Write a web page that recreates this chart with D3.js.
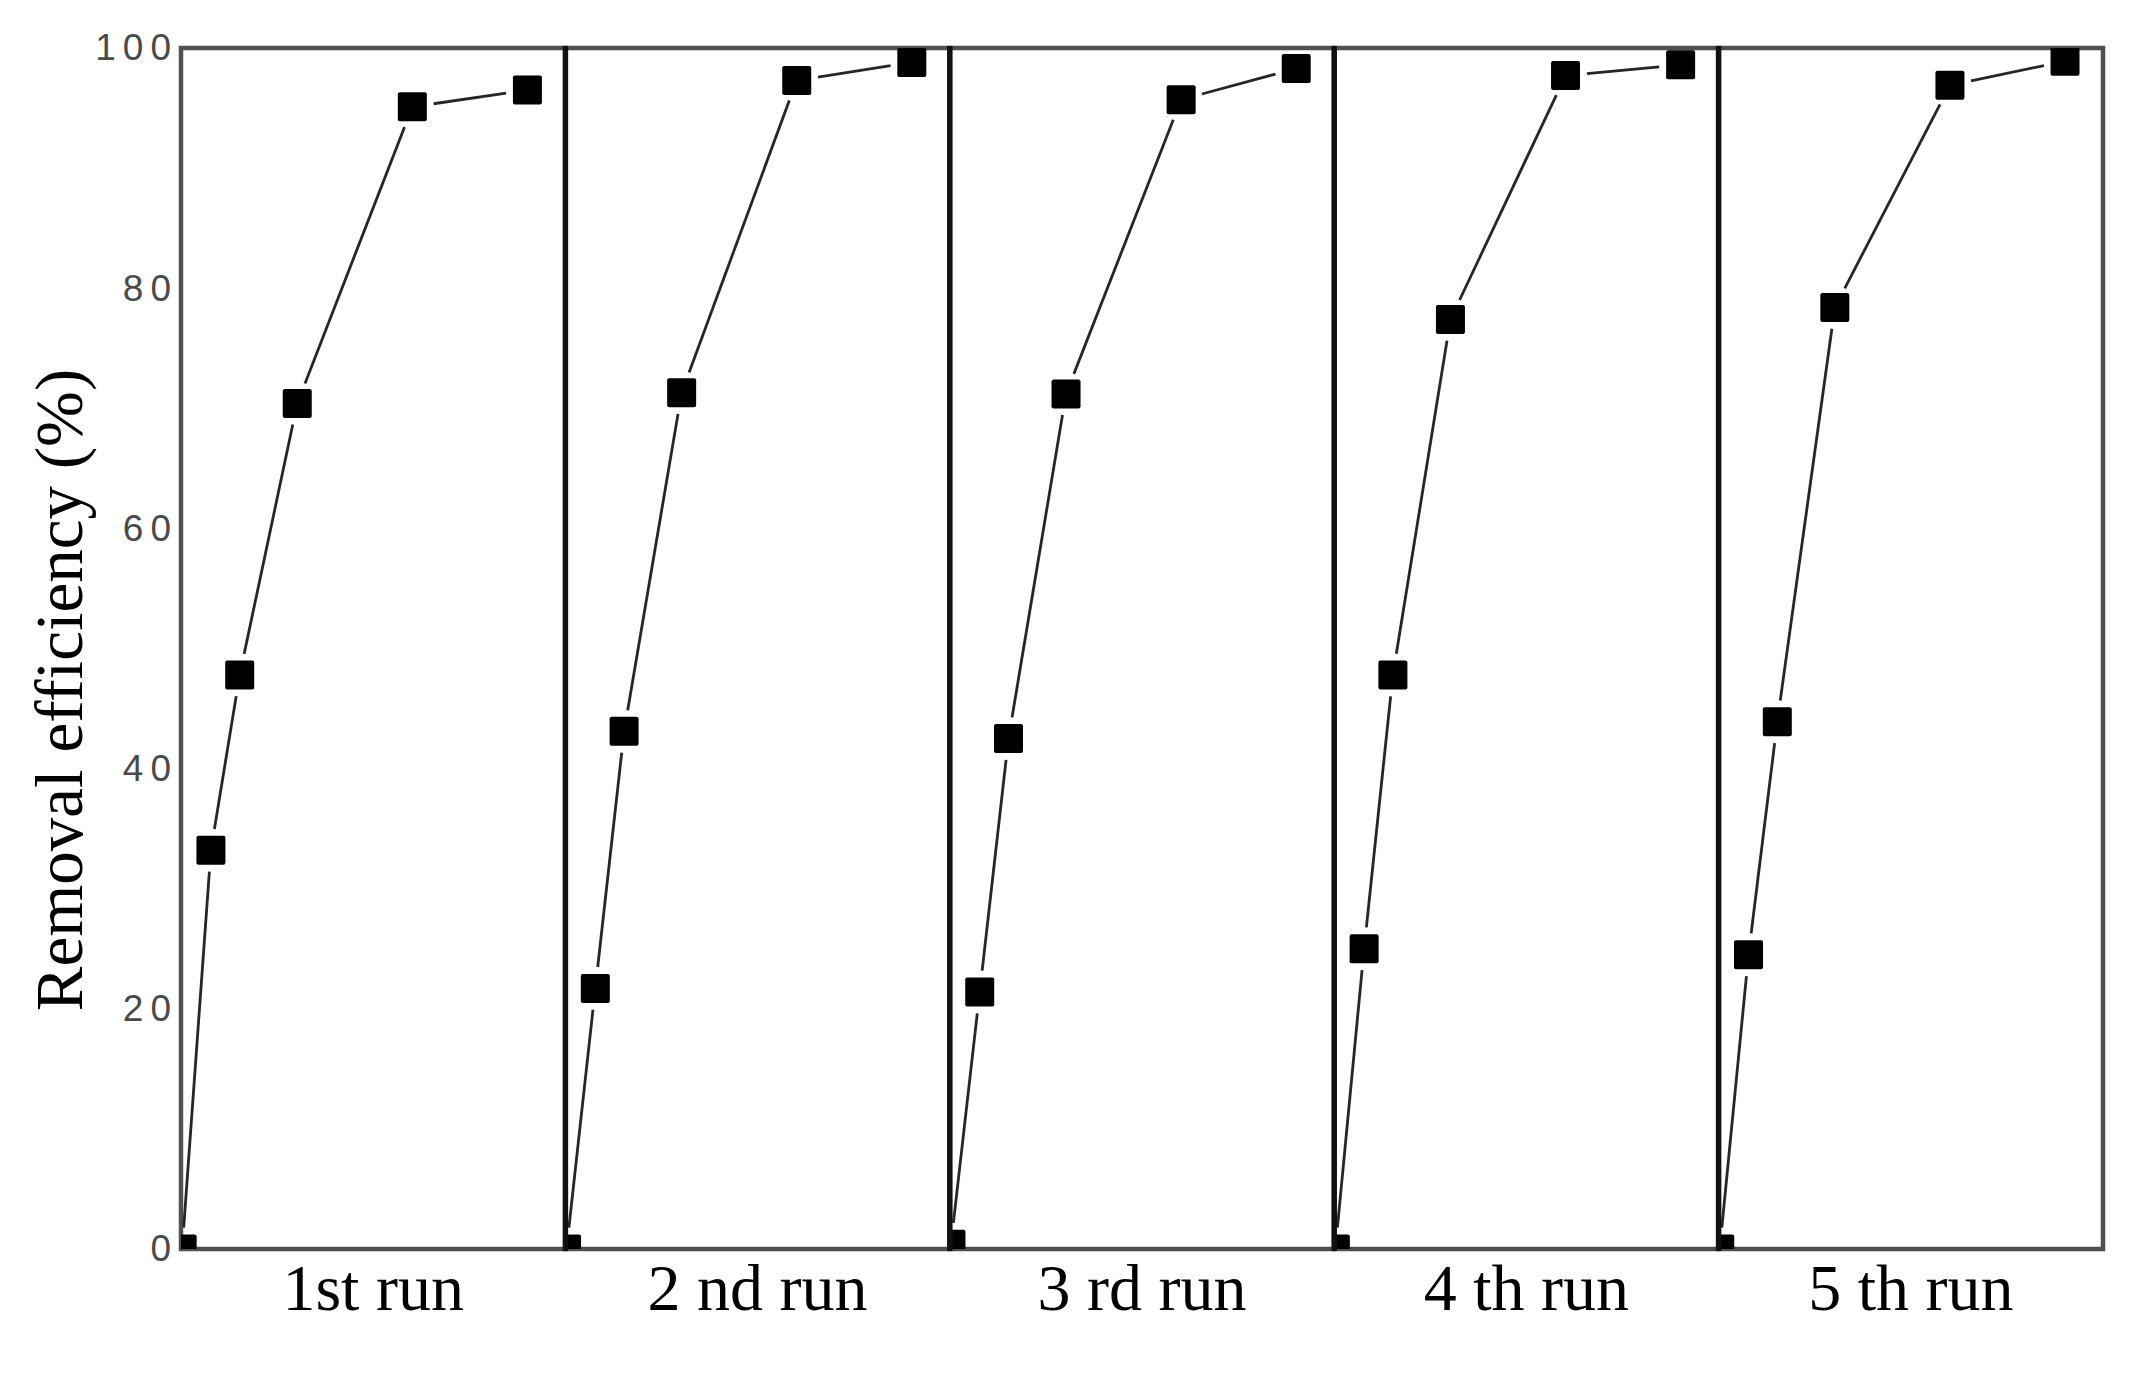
<!DOCTYPE html>
<html><head><meta charset="utf-8">
<script src="https://cdn.jsdelivr.net/npm/d3@7"></script>
<style>body{margin:0;background:#fff}</style>
</head><body>
<svg id="chart" width="2138" height="1377"></svg>
<script>
// ---- data ----
const runs = ["1st run", "2 nd run", "3 rd run", "4 th run", "5 th run"];
const times = [0, 5, 10, 20, 40, 60];
const run1 = [0, 33.2, 47.8, 70.4, 95.1, 96.5];
const run2 = [0, 21.7, 43.1, 71.3, 97.3, 98.8];
const run3 = [0.4, 21.4, 42.5, 71.2, 95.7, 98.3];
const run4 = [0, 25.0, 47.8, 77.4, 97.7, 98.6];
const run5 = [0, 24.5, 43.9, 78.4, 96.9, 98.9];
const yTicks = [0, 20, 40, 60, 80, 100];
const yTitle = "Removal efficiency (%)";

const series = [run1, run2, run3, run4, run5];

// ---- layout ----
const W = 2138, H = 1377;
const pLeft = 181, pRight = 2103, pTop = 48, pBottom = 1249;
const svg = d3.select("#chart");
svg.append("rect").attr("width", W).attr("height", H).attr("fill", "#fff");

const xPanel = d3.scaleBand().domain(runs).range([pLeft, pRight]).padding(0);
const y = d3.scaleLinear().domain([0, 100]).range([pBottom, pTop]);
const xIn = d3.scaleLinear().domain([-0.2, 66.6]).range([0, xPanel.bandwidth()]);

const ms = 29, gap = ms / 2 + 7;
const defs = svg.append("defs");

runs.forEach((r, i) => {
  const g = svg.append("g").attr("transform", `translate(${xPanel(r)},0)`);
  const bw = xPanel.bandwidth();
  defs.append("clipPath").attr("id", "clip" + i)
    .append("rect").attr("x", 0).attr("y", pTop).attr("width", bw).attr("height", pBottom - pTop);
  g.append("rect").attr("x", 0).attr("y", pTop).attr("width", bw).attr("height", pBottom - pTop)
    .attr("fill", "none").attr("stroke", "#505050").attr("stroke-width", 4.5);

  const pts = times.map((t, k) => [xIn(t), y(series[i][k])]);
  const cg = g.append("g").attr("clip-path", `url(#clip${i})`);
  const segs = d3.pairs(pts).map(([a, b]) => {
    const dx = b[0] - a[0], dy = b[1] - a[1], d = Math.hypot(dx, dy);
    const ux = dx / d, uy = dy / d;
    return [[a[0] + ux * gap, a[1] + uy * gap], [b[0] - ux * gap, b[1] - uy * gap]];
  });
  cg.selectAll("line.seg").data(segs).join("line").attr("class", "seg")
    .attr("x1", d => d[0][0]).attr("y1", d => d[0][1])
    .attr("x2", d => d[1][0]).attr("y2", d => d[1][1])
    .attr("stroke", "#262626").attr("stroke-width", 2.8);
  cg.selectAll("rect.m").data(pts).join("rect").attr("class", "m")
    .attr("x", d => d[0] - ms / 2).attr("y", d => d[1] - ms / 2)
    .attr("width", ms).attr("height", ms).attr("rx", 2).attr("fill", "#000");

  svg.append("text").attr("x", xPanel(r) + bw / 2).attr("y", 1310)
    .attr("text-anchor", "middle")
    .attr("font-family", "'Liberation Serif','Times New Roman',serif")
    .attr("font-size", 66).attr("fill", "#000").text(r);
});

// dividers between panels
svg.selectAll("line.div").data(runs.slice(1)).join("line").attr("class", "div")
  .attr("x1", d => xPanel(d)).attr("x2", d => xPanel(d))
  .attr("y1", pTop - 2).attr("y2", pBottom + 2)
  .attr("stroke", "#111").attr("stroke-width", 5.5);

// y axis labels
const yAxis = d3.axisLeft(y).tickValues(yTicks).tickSize(0).tickPadding(3);
const ay = svg.append("g").attr("transform", `translate(${pLeft},0)`).call(yAxis);
ay.select(".domain").remove();
ay.selectAll("text")
  .attr("font-family", "'Liberation Sans',Arial,sans-serif")
  .attr("font-size", 37).attr("letter-spacing", 7).attr("fill", "#4a4a4a");

// y title
svg.append("text").attr("transform", "translate(82,690) rotate(-90)")
  .attr("text-anchor", "middle")
  .attr("font-family", "'Liberation Serif','Times New Roman',serif")
  .attr("font-size", 67).attr("fill", "#000").text(yTitle);
</script>
</body></html>
